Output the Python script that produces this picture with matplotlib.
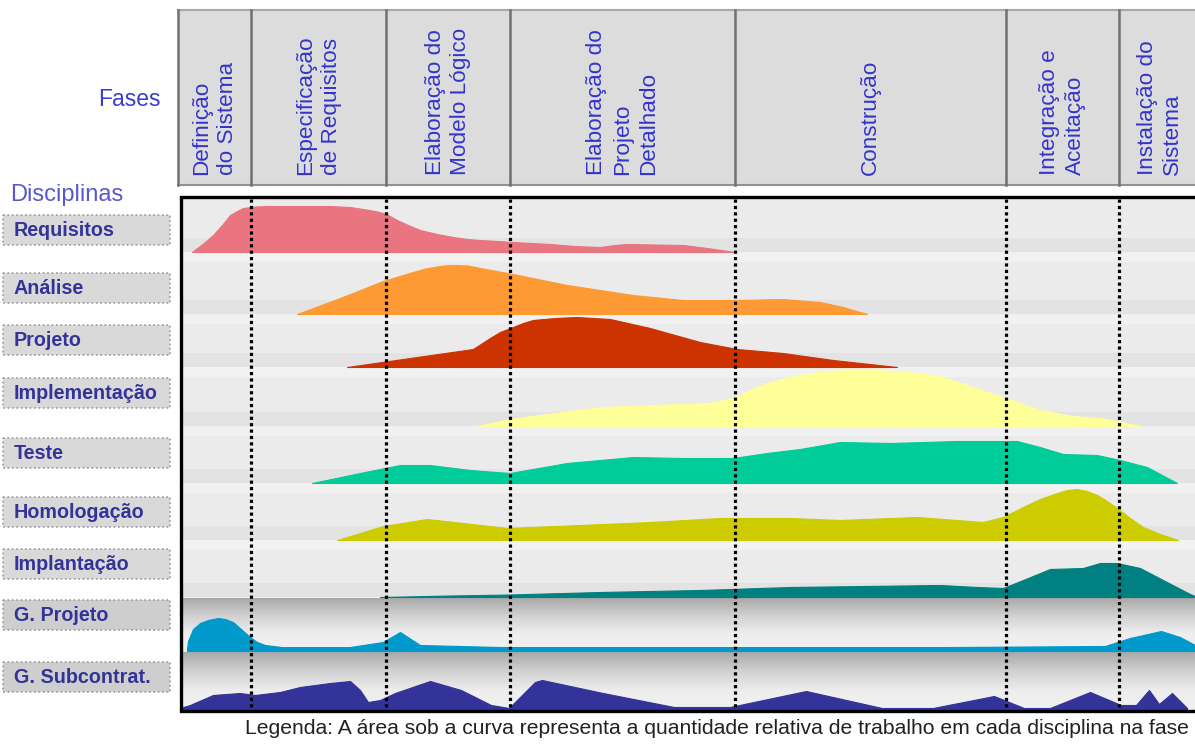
import numpy as np
import matplotlib
matplotlib.use("Agg")
import matplotlib.pyplot as plt
from matplotlib.patches import Rectangle
from matplotlib.colors import LinearSegmentedColormap

plt.rcParams["font.family"] = ["Liberation Sans", "DejaVu Sans"]

W, H = 1195, 744

# phases (header columns) and their boundaries along the timeline
PHASES = ["Definição\ndo Sistema", "Especificação\nde Requisitos",
          "Elaboração do\nModelo Lógico", "Elaboração do\nProjeto\nDetalhado",
          "Construção", "Integração e\nAceitação", "Instalação do\nSistema"]
PHASE_EDGES = [178, 251, 386, 510, 735, 1006, 1119, 1195]

DISCIPLINES = ["Requisitos", "Análise", "Projeto", "Implementação", "Teste",
               "Homologação", "Implantação", "G. Projeto", "G. Subcontrat."]
COLORS = ["#e8757f", "#fd9a33", "#cc3300", "#ffff99", "#00cc99",
          "#cccc00", "#008080", "#0099cc", "#333399"]

# effort curves: timeline position and relative effort height
REQ_X = [192, 205, 213, 222, 230, 237, 243, 255, 267, 300, 330, 350, 363, 375, 383, 390, 397,
         408, 420, 437, 453, 467, 480, 497, 513, 550, 575, 600, 615, 627, 655, 683, 707, 735]
REQ_H = [0, 10, 17, 27, 37, 41, 44, 45.5, 46, 46, 46, 45, 43, 41, 39, 36, 32,
         27, 22, 18, 15, 13, 12, 11, 10, 8, 6, 5, 7, 8, 7.5, 7, 4, 0]

ANA_X = [297, 340, 383, 413, 425, 440, 448, 457, 468, 480, 497, 513, 567, 633, 683, 737, 783,
         820, 843, 867]
ANA_H = [0, 16, 33, 42, 45.5, 48, 49, 49, 48.5, 46, 43, 40, 29, 19, 14, 14, 15,
         12, 7, 0]

PRJ_X = [347, 410, 473, 490, 500, 513, 523, 533, 555, 577, 610, 650, 700, 737, 783, 833, 897]
PRJ_H = [0, 9, 18, 29, 35, 40, 44, 47, 49, 50, 48, 39, 25, 18, 14, 7, 0]

IMP_X = [477, 510, 600, 710, 733, 750, 767, 785, 800, 820, 840, 870, 900, 940, 973, 1003,
         1040, 1073, 1107, 1140]
IMP_H = [0, 7, 19, 23, 28, 36, 43, 48, 51, 54, 56, 56, 55, 50, 39, 29,
         16, 10, 7, 0]

TST_X = [312, 360, 400, 430, 470, 510, 567, 633, 683, 733, 767, 800, 840, 890, 957, 1017,
         1040, 1063, 1097, 1120, 1147, 1177]
TST_H = [0, 10, 18, 18, 13, 10, 20, 26, 25, 25, 30, 34, 41, 40, 42, 42,
         36, 29, 28, 23, 16, 0]

HOM_X = [337, 383, 427, 463, 507, 580, 650, 720, 790, 840, 917, 983, 1003, 1023, 1040, 1057,
         1067, 1077, 1087, 1097, 1107, 1117, 1130, 1143, 1160, 1178]
HOM_H = [0, 14, 21, 17, 12, 15, 18, 22, 22, 20, 23, 18, 23, 33, 41, 47,
         50, 51, 49, 45, 39, 32, 22, 13, 6, 0]

IMN_X = [380, 450, 510, 600, 700, 790, 940, 977, 1003, 1023, 1050, 1083, 1100, 1117, 1140,
         1163, 1190, 1195]
IMN_H = [0, 1.5, 2.5, 5, 7, 10, 12, 10, 9, 17, 28, 29, 34, 34, 29,
         17, 3, 1]

GPR_X = [187, 188, 193, 200, 208, 218, 225, 233, 241, 250, 257, 265, 290, 350, 383, 400, 420,
         500, 800, 1105, 1130, 1161, 1180, 1195]
GPR_H = [1, 10, 22, 28, 31, 33, 32, 29, 22, 14, 9, 6, 3, 4, 9, 19, 6,
         4, 3, 5, 13, 20, 14, 6]

GSC_X = [180, 190, 213, 240, 255, 280, 300, 330, 350, 360, 368, 380, 395, 430, 461, 491, 509,
         535, 542, 603, 674, 730, 806, 882, 933, 994, 1024, 1050, 1090, 1121, 1136, 1149,
         1159, 1172, 1187]
GSC_H = [1, 4, 14, 16, 14, 17, 22, 26, 28, 19, 7, 9, 16, 28, 19, 4, 1,
         27, 29, 16, 2, 2, 18, 1, 1, 13, 1, 1, 17, 4, 4, 19,
         5, 16, 1]

CURVES = [(REQ_X, REQ_H), (ANA_X, ANA_H), (PRJ_X, PRJ_H), (IMP_X, IMP_H),
          (TST_X, TST_H), (HOM_X, HOM_H), (IMN_X, IMN_H), (GPR_X, GPR_H),
          (GSC_X, GSC_H)]

CAPTION = ("Legenda: A área sob a curva representa a quantidade relativa "
           "de trabalho em cada disciplina na fase")

# layout (pixel space)
BASELINES = [252, 314, 367, 426, 483, 540, 597, 651, 709]
LABEL_Y = [230, 288, 340, 393, 453, 512, 564, 615, 677]
PLOT_L, PLOT_R, PLOT_T, PLOT_B = 181, 1197, 197, 711
HEAD_T, HEAD_B = 10, 185
TXT_BLUE = "#3434cc"

fig = plt.figure(figsize=(W / 100, H / 100), dpi=100)
fig.patch.set_facecolor("white")
ax = fig.add_axes([0, 0, 1, 1])

# --- plot background: light striped upper part, shaded lower rows
ax.add_patch(Rectangle((PLOT_L, PLOT_T), PLOT_R - PLOT_L, 598 - PLOT_T,
                       facecolor="#ebebeb", edgecolor="none", zorder=0))
for b in BASELINES[:7]:
    ax.add_patch(Rectangle((PLOT_L, b - 14), PLOT_R - PLOT_L, 14,
                           facecolor="#e3e3e3", edgecolor="none", zorder=0.1))
    ax.add_patch(Rectangle((PLOT_L, b), PLOT_R - PLOT_L, 10,
                           facecolor="#f1f1f1", edgecolor="none", zorder=0.1))

shade = LinearSegmentedColormap.from_list("shade", ["#a9a9a9", "#d2d2d2", "#eeeeee", "#f0f0f0"])
grad = np.linspace(0, 1, 128).reshape(-1, 1)
ax.imshow(grad, extent=[PLOT_L, PLOT_R, 652, 598], cmap=shade, aspect="auto",
          origin="upper", zorder=0.2, interpolation="bilinear")
ax.imshow(grad, extent=[PLOT_L, PLOT_R, PLOT_B, 652], cmap=shade, aspect="auto",
          origin="upper", zorder=0.2, interpolation="bilinear")

# --- effort humps
for (xs, hs), base, col in zip(CURVES, BASELINES, COLORS):
    xs = np.asarray(xs, float)
    hs = np.asarray(hs, float)
    ax.fill_between(xs, base, base - hs, color=col, lw=0.8, ec=col, zorder=2)

# G. Projeto has a flat band along its baseline
ax.fill_between([187, 1195], 651, 647, color=COLORS[7], lw=0, zorder=2)

# --- phase separators
for xb in PHASE_EDGES[1:-1]:
    ax.plot([xb, xb], [PLOT_T + 2, PLOT_B], color="black", lw=2.3,
            ls=(0, (1, 1)), dash_capstyle="butt", zorder=4)

# frame
ax.plot([PLOT_R, PLOT_L, PLOT_L, PLOT_R], [PLOT_T, PLOT_T, PLOT_B, PLOT_B],
        color="black", lw=2.4, zorder=5, solid_joinstyle="miter")

# --- header with phase names
ax.add_patch(Rectangle((PHASE_EDGES[0], HEAD_T), PLOT_R + 5 - PHASE_EDGES[0], HEAD_B - HEAD_T,
                       facecolor="#dcdcdc", edgecolor="none", zorder=1))
ax.plot([PHASE_EDGES[0], PLOT_R + 5], [HEAD_T, HEAD_T], color="#a8a8a8", lw=1.5, zorder=3)
ax.plot([PHASE_EDGES[0], PLOT_R + 5], [HEAD_B, HEAD_B], color="#909090", lw=1.5, zorder=3)
for xb in PHASE_EDGES[:-1]:
    ax.plot([xb, xb], [HEAD_T, HEAD_B], color="#707070", lw=1.8, zorder=3)

for i, name in enumerate(PHASES):
    xc = (PHASE_EDGES[i] + PHASE_EDGES[i + 1]) / 2
    if i == len(PHASES) - 1:
        xc += 3
    ax.text(xc, 175, name, rotation=90, ha="center", va="bottom",
            multialignment="left", fontsize=16.2, color=TXT_BLUE,
            linespacing=1.3, zorder=6)

ax.text(161, 100, "Fases", ha="right", va="center", fontsize=16.5, color="#3c3ccf")
ax.text(10, 195, "Disciplinas", ha="left", va="center", fontsize=17, color="#5858cc")

# --- discipline labels
for i, (lab, yc) in enumerate(zip(DISCIPLINES, LABEL_Y)):
    fc = "#d9d9d9" if i < 7 else "#cecece"
    ax.add_patch(Rectangle((3, yc - 15), 167, 30, facecolor=fc, edgecolor="#9a9a9a",
                           lw=1.2, ls=":", zorder=1))
    ax.text(14, yc + 0.5, lab, ha="left", va="center", fontsize=14.2,
            fontweight="bold", color="#333399", zorder=2)

ax.text(245, 728, CAPTION, ha="left", va="center", fontsize=15.2, color="#222222")

ax.set_xlim(0, W)
ax.set_ylim(H, 0)
ax.axis("off")

fig.savefig("out.png", dpi=100, facecolor="white")
